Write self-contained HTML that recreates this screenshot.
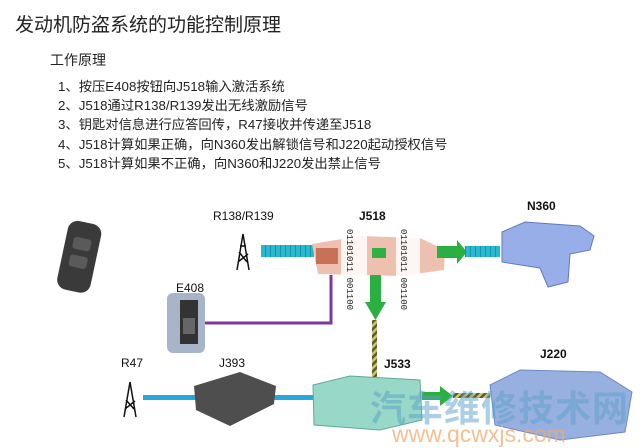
<!DOCTYPE html>
<html><head><meta charset="utf-8"><style>
body{margin:0;width:640px;height:447px;background:#fff;position:relative;overflow:hidden;font-family:"Liberation Sans","Noto Sans CJK SC",sans-serif;color:#222}
.a{position:absolute;white-space:nowrap}
.lbl{font-size:12px;font-weight:bold;color:#111}
.bin{font-size:9px;writing-mode:vertical-rl;line-height:11px;font-family:'Liberation Mono',monospace;color:#222}
</style></head><body>
<div class="a" style="left:15px;top:10px;font-size:19px">发动机防盗系统的功能控制原理</div>
<div class="a" style="left:50px;top:50px;font-size:14px">工作原理</div>
<div class="a" style="left:58px;top:77px;font-size:13.3px;line-height:19.2px">1、按压E408按钮向J518输入激活系统<br>2、J518通过R138/R139发出无线激励信号<br>3、钥匙对信息进行应答回传，R47接收并传递至J518<br>4、J518计算如果正确，向N360发出解锁信号和J220起动授权信号<br>5、J518计算如果不正确，向N360和J220发出禁止信号</div>
<svg class="a" style="left:0;top:0" width="640" height="447">
<defs><pattern id="st" width="5" height="5" patternUnits="userSpaceOnUse" patternTransform="rotate(45)"><rect width="5" height="5" fill="#d0c860"/><rect width="2.5" height="5" fill="#5a5a40"/></pattern>
<pattern id="cy" width="5" height="10" patternUnits="userSpaceOnUse"><rect width="5" height="10" fill="#28b8d0"/><rect width="1" height="10" fill="#1890a8"/></pattern></defs>
<!-- key fob -->
<g transform="rotate(12 80 258)"><rect x="62" y="222" width="34" height="70" rx="10" fill="#3a3a3a"/><rect x="70" y="238" width="18" height="12" rx="3" fill="#5a5a5a"/><rect x="70" y="256" width="18" height="12" rx="3" fill="#5a5a5a"/></g>
<!-- tower R138 -->
<g stroke="#111" stroke-width="1.5" fill="none"><path d="M237 270 L243 234 L249 270 M238 262 L248 254 M239 252 L247 262 M240 246 L246 246"/></g>
<rect x="261" y="245" width="53" height="12" fill="url(#cy)"/>
<!-- J518 -->
<path d="M312 244 L360 236 L420 238 L445 250 L444 270 L400 276 L318 274 Z" fill="#eec0b0"/>
<rect x="316" y="248" width="22" height="16" fill="#c87058"/>
<rect x="341" y="228" width="26" height="48" fill="#fff" opacity=".85"/>
<rect x="396" y="228" width="24" height="48" fill="#fff" opacity=".85"/>
<rect x="372" y="248" width="14" height="10" fill="#30b040"/>
<path d="M437 246 L457 246 L457 240 L467 252 L457 264 L457 258 L437 258 Z" fill="#2ab040"/>
<rect x="465" y="246" width="35" height="11" fill="url(#cy)"/>
<!-- N360 -->
<path d="M502 232 L525 222 L580 226 L594 236 L590 250 L570 254 L568 282 L548 287 L540 268 L502 262 Z" fill="#98aee8" stroke="#6078c0"/>
<!-- E408 -->
<rect x="167" y="293" width="38" height="60" rx="6" fill="#a8b4c8"/><rect x="180" y="300" width="18" height="44" fill="#333"/><rect x="183" y="318" width="12" height="16" fill="#666"/>
<polyline points="205,323 331,323 331,275" fill="none" stroke="#7a3a98" stroke-width="3"/>
<!-- down arrow -->
<rect x="370" y="275" width="11" height="30" fill="#2ab040"/><path d="M365 302 L386 302 L375.5 320 Z" fill="#2ab040"/>
<rect x="372" y="320" width="5" height="58" fill="url(#st)"/>
<!-- R47 -->
<g stroke="#111" stroke-width="1.5" fill="none"><path d="M124 417 L130 382 L136 417 M125 409 L135 401 M126 400 L134 409"/></g>
<rect x="143" y="395" width="172" height="5" fill="#28a8d8"/>
<!-- J393 -->
<path d="M194 386 L240 372 L276 386 L274 404 L230 426 L196 410 Z" fill="#4e4e4e"/>
<!-- J533 -->
<path d="M313 385 L350 376 L420 380 L422 420 L380 430 L314 425 Z" fill="#98d8c8" stroke="#60a898"/>
<path d="M422 392 L440 392 L440 386 L453 396 L440 406 L440 400 L422 400 Z" fill="#2ab040"/>
<rect x="453" y="393" width="37" height="5" fill="url(#st)"/>
<!-- J220 -->
<path d="M490 385 L520 370 L600 372 L632 392 L625 432 L560 440 L495 425 Z" fill="#98b0e0" stroke="#6a88c8"/>
</svg>
<div class="a bin" style="left:343px;top:229px">01101011 001100</div>
<div class="a bin" style="left:397px;top:229px">01101011 001100</div>
<div class="a lbl" style="left:213px;top:209px;font-weight:normal">R138/R139</div>
<div class="a lbl" style="left:359px;top:209px">J518</div>
<div class="a lbl" style="left:527px;top:199px">N360</div>
<div class="a lbl" style="left:176px;top:281px;font-weight:normal">E408</div>
<div class="a lbl" style="left:121px;top:356px;font-weight:normal">R47</div>
<div class="a lbl" style="left:219px;top:356px;font-weight:normal">J393</div>
<div class="a lbl" style="left:384px;top:357px">J533</div>
<div class="a lbl" style="left:540px;top:347px">J220</div>
<div class="a" style="left:370px;top:380px;font-size:36px;font-weight:bold;color:rgba(90,160,200,.5);letter-spacing:1px">汽车维修技术网</div>
<div class="a" style="left:392px;top:421px;font-size:23px;color:rgba(240,170,110,.75)">www.qcwxjs.com</div>
</body></html>
